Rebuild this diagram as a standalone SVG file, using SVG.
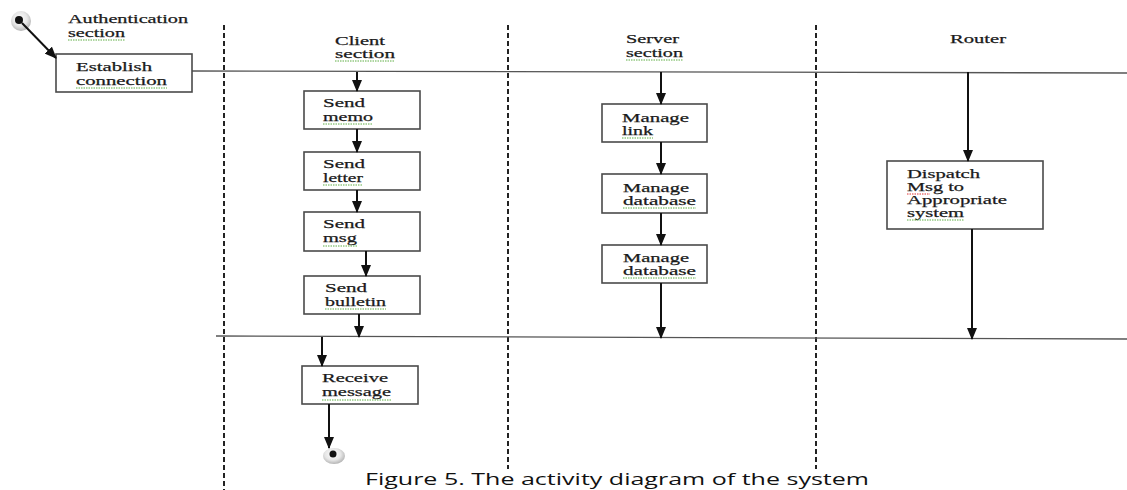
<svg xmlns="http://www.w3.org/2000/svg" width="1127" height="490" viewBox="0 0 1127 490">
<style>
.t{font-family:"Liberation Serif","Times New Roman",serif;font-size:13px;fill:#1a1a1a;stroke:#1a1a1a;stroke-width:0.25}
.box{fill:#fff;stroke:#4a4a4a;stroke-width:1.6}
.lane{stroke:#222;stroke-width:2;stroke-dasharray:5 3;fill:none}
.sep{stroke:#555;stroke-width:1.3;fill:none}
.arr{stroke:#111;stroke-width:2;fill:none;marker-end:url(#ah)}
.sq{stroke:#5fae45;stroke-width:1;stroke-dasharray:1.5 1;fill:none}
.sqr{stroke:#d33;stroke-width:1;stroke-dasharray:1.5 1;fill:none}
.cap{font-family:"Open Sans","Liberation Sans",sans-serif;font-size:17px;fill:#111}
</style>
<defs>
<marker id="ah" markerWidth="12" markerHeight="10" refX="11" refY="5" orient="auto" markerUnits="userSpaceOnUse">
<path d="M0,0 L12,5 L0,10 Z" fill="#111"/>
</marker>
<radialGradient id="sh" cx="0.45" cy="0.4" r="0.6">
<stop offset="0" stop-color="#fff"/>
<stop offset="0.6" stop-color="#e6e6e6"/>
<stop offset="1" stop-color="#b5b5b5"/>
</radialGradient>
</defs>

<g id="lanes">
<line class="lane" x1="224" y1="25" x2="224" y2="490"/>
<line class="lane" x1="508" y1="25" x2="508" y2="469"/>
<line class="lane" x1="816" y1="25" x2="816" y2="469"/>
<line class="sep" x1="192" y1="71" x2="1127" y2="73"/>
<line class="sep" x1="216" y1="336" x2="1127" y2="339"/>
</g>

<g id="headers">
<text class="t" x="68" y="23" textLength="120" lengthAdjust="spacingAndGlyphs">Authentication</text>
<text class="t" x="68" y="37" textLength="57" lengthAdjust="spacingAndGlyphs">section</text>
<path class="sq" d="M68,40 H125"/>
<text class="t" x="335" y="45" textLength="50" lengthAdjust="spacingAndGlyphs">Client</text>
<text class="t" x="335" y="58" textLength="60" lengthAdjust="spacingAndGlyphs">section</text>
<path class="sq" d="M335,61 H395"/>
<text class="t" x="626" y="43" textLength="53" lengthAdjust="spacingAndGlyphs">Server</text>
<text class="t" x="626" y="57" textLength="57" lengthAdjust="spacingAndGlyphs">section</text>
<path class="sq" d="M626,60 H683"/>
<text class="t" x="950" y="43" textLength="56" lengthAdjust="spacingAndGlyphs">Router</text>
</g>

<g id="start">
<circle cx="21" cy="21" r="10" fill="url(#sh)"/>
<circle cx="19" cy="20" r="4" fill="#111"/>
</g>

<g id="establish">
<rect class="box" x="56" y="54" width="136" height="38"/>
<text class="t" x="76" y="71" textLength="76" lengthAdjust="spacingAndGlyphs">Establish</text>
<text class="t" x="76" y="85" textLength="91" lengthAdjust="spacingAndGlyphs">connection</text>
<path class="sq" d="M76,88 H167"/>
</g>

<g id="send-memo">
<rect class="box" x="304" y="91" width="116" height="38"/>
<text class="t" x="323" y="107" textLength="42" lengthAdjust="spacingAndGlyphs">Send</text>
<text class="t" x="323" y="121" textLength="50" lengthAdjust="spacingAndGlyphs">memo</text>
<path class="sq" d="M323,124 H373"/>
</g>
<g id="send-letter">
<rect class="box" x="304" y="152" width="116" height="38"/>
<text class="t" x="323" y="168" textLength="42" lengthAdjust="spacingAndGlyphs">Send</text>
<text class="t" x="323" y="182" textLength="40" lengthAdjust="spacingAndGlyphs">letter</text>
<path class="sq" d="M323,185 H363"/>
</g>
<g id="send-msg">
<rect class="box" x="304" y="212" width="116" height="39"/>
<text class="t" x="323" y="228" textLength="42" lengthAdjust="spacingAndGlyphs">Send</text>
<text class="t" x="323" y="242" textLength="34" lengthAdjust="spacingAndGlyphs">msg</text>
<path class="sq" d="M323,246 H357"/>
</g>
<g id="send-bulletin">
<rect class="box" x="304" y="276" width="116" height="38"/>
<text class="t" x="325" y="292" textLength="42" lengthAdjust="spacingAndGlyphs">Send</text>
<text class="t" x="325" y="306" textLength="61" lengthAdjust="spacingAndGlyphs">bulletin</text>
<path class="sq" d="M325,309 H386"/>
</g>
<g id="receive-message">
<rect class="box" x="302" y="366" width="116" height="38"/>
<text class="t" x="322" y="382" textLength="66" lengthAdjust="spacingAndGlyphs">Receive</text>
<text class="t" x="322" y="396" textLength="69" lengthAdjust="spacingAndGlyphs">message</text>
<path class="sq" d="M322,400 H391"/>
</g>
<g id="end">
<ellipse cx="334" cy="456" rx="11" ry="8" fill="url(#sh)"/>
<circle cx="333" cy="454" r="3.5" fill="#111"/>
</g>

<g id="manage-link">
<rect class="box" x="602" y="104" width="105" height="38"/>
<text class="t" x="622" y="122" textLength="67" lengthAdjust="spacingAndGlyphs">Manage</text>
<text class="t" x="622" y="135" textLength="31" lengthAdjust="spacingAndGlyphs">link</text>
<path class="sq" d="M622,138 H653"/>
</g>
<g id="manage-database-1">
<rect class="box" x="602" y="174" width="105" height="39"/>
<text class="t" x="623" y="192" textLength="66" lengthAdjust="spacingAndGlyphs">Manage</text>
<text class="t" x="623" y="205" textLength="73" lengthAdjust="spacingAndGlyphs">database</text>
<path class="sq" d="M623,208 H696"/>
</g>
<g id="manage-database-2">
<rect class="box" x="602" y="245" width="105" height="38"/>
<text class="t" x="623" y="262" textLength="66" lengthAdjust="spacingAndGlyphs">Manage</text>
<text class="t" x="623" y="275" textLength="73" lengthAdjust="spacingAndGlyphs">database</text>
<path class="sq" d="M623,278 H696"/>
</g>

<g id="dispatch">
<rect class="box" x="887" y="161" width="156" height="68"/>
<text class="t" x="907" y="178" textLength="73" lengthAdjust="spacingAndGlyphs">Dispatch</text>
<text class="t" x="907" y="191" textLength="57" lengthAdjust="spacingAndGlyphs">Msg to</text>
<path class="sqr" d="M907,194 H930"/>
<text class="t" x="907" y="204" textLength="100" lengthAdjust="spacingAndGlyphs">Appropriate</text>
<text class="t" x="907" y="217" textLength="57" lengthAdjust="spacingAndGlyphs">system</text>
<path class="sq" d="M907,220 H964"/>
</g>

<g id="connectors">
<line class="arr" x1="22" y1="23" x2="56" y2="58"/>
<line class="arr" x1="357" y1="72" x2="357" y2="91"/>
<line class="arr" x1="357" y1="129" x2="357" y2="152"/>
<line class="arr" x1="357" y1="190" x2="357" y2="212"/>
<line class="arr" x1="366" y1="251" x2="366" y2="276"/>
<line class="arr" x1="359" y1="314" x2="359" y2="337"/>
<line class="arr" x1="322" y1="337" x2="322" y2="366"/>
<line class="arr" x1="329" y1="404" x2="329" y2="448"/>
<line class="arr" x1="661" y1="72" x2="661" y2="104"/>
<line class="arr" x1="661" y1="142" x2="661" y2="174"/>
<line class="arr" x1="661" y1="213" x2="661" y2="245"/>
<line class="arr" x1="661" y1="283" x2="661" y2="338"/>
<line class="arr" x1="968" y1="72" x2="968" y2="161"/>
<line class="arr" x1="972" y1="229" x2="972" y2="339"/>
</g>

<text class="cap" x="365" y="485" textLength="504" lengthAdjust="spacingAndGlyphs">Figure 5. The activity diagram of the system</text>
</svg>
